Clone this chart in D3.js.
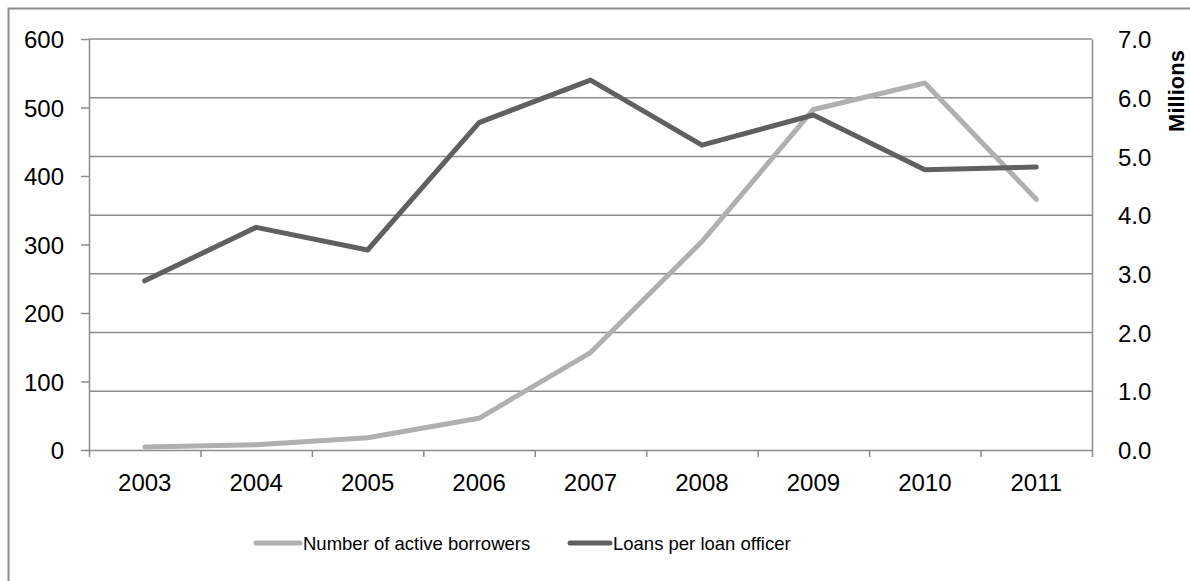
<!DOCTYPE html>
<meta charset="utf-8">
<style>
body { margin: 0; background: #fff; }
svg { font-family: "Liberation Sans", Arial, sans-serif; }
.axis text { fill: #000; font-size: 24px; }
.axis path, .axis line { stroke: #8c8c8c; stroke-width: 1.5px; }
.grid line { stroke: #8c8c8c; stroke-width: 1.5px; }
.legend text { font-size: 18.5px; fill: #000; }
</style>
<svg width="1190" height="581"></svg>
<script src="https://d3js.org/d3.v7.min.js"></script>
<script>

// data
var years = ["2003", "2004", "2005", "2006", "2007", "2008", "2009", "2010", "2011"];
var borrowers = [0.05, 0.09, 0.21, 0.54, 1.66, 3.55, 5.8, 6.25, 4.27]; // millions, right axis
var loansPerOfficer = [247, 325, 292, 478, 540, 445, 489, 409, 413];  // left axis
var leftTicks = [0, 100, 200, 300, 400, 500, 600];
var rightTicks = [0, 1, 2, 3, 4, 5, 6, 7];
var seriesNames = ["Number of active borrowers", "Loans per loan officer"];
var seriesColors = ["#b0b0b0", "#606060"];

var svg = d3.select("svg");
var plotLeft = 89, plotRight = 1092, plotTop = 39, plotBottom = 450;

// outer chart border
svg.append("rect")
    .attr("x", 8.5).attr("y", 8.5)
    .attr("width", 1200).attr("height", 600)
    .attr("fill", "none")
    .attr("stroke", "#8c8c8c")
    .attr("stroke-width", 2);

var x = d3.scaleBand().domain(years).range([plotLeft, plotRight]);
var xEdge = d3.scaleLinear().domain([0, years.length]).range([plotLeft, plotRight]);
var yL = d3.scaleLinear().domain([0, 600]).range([plotBottom, plotTop]);
var yR = d3.scaleLinear().domain([0, 7]).range([plotBottom, plotTop]);

// gridlines follow the right axis
svg.append("g").attr("class", "grid")
  .selectAll("line")
  .data(rightTicks.slice(1))
  .enter().append("line")
    .attr("x1", plotLeft).attr("x2", plotRight)
    .attr("y1", function(d) { return yR(d); })
    .attr("y2", function(d) { return yR(d); });

svg.append("g").attr("class", "axis")
    .attr("transform", "translate(" + plotLeft + ",0)")
    .call(d3.axisLeft(yL).tickValues(leftTicks).tickSize(8).tickSizeOuter(0).tickPadding(17).tickFormat(d3.format("d")))
    .selectAll("text").attr("dy", "0.36em");

svg.append("g").attr("class", "axis")
    .attr("transform", "translate(" + plotRight + ",0)")
    .call(d3.axisRight(yR).tickValues(rightTicks).tickSize(0).tickPadding(26).tickFormat(d3.format(".1f")))
    .selectAll("text").attr("dy", "0.36em");

// bottom axis: tick marks between categories, labels centered
svg.append("g").attr("class", "axis")
    .attr("transform", "translate(0," + plotBottom + ")")
    .call(d3.axisBottom(xEdge).tickValues(d3.range(years.length + 1)).tickSize(7).tickSizeOuter(0).tickFormat(""));

var xl = svg.append("g").attr("class", "axis")
    .attr("transform", "translate(0," + plotBottom + ")")
    .call(d3.axisBottom(x).tickSize(0).tickPadding(24));
xl.select(".domain").remove();

svg.append("text")
    .attr("transform", "translate(1184,91) rotate(-90)")
    .attr("text-anchor", "middle")
    .style("font-size", "22px")
    .style("font-weight", "bold")
    .text("Millions");

var lineR = d3.line()
    .x(function(d, i) { return x(years[i]) + x.bandwidth() / 2; })
    .y(function(d) { return yR(d); });
var lineL = d3.line()
    .x(function(d, i) { return x(years[i]) + x.bandwidth() / 2; })
    .y(function(d) { return yL(d); });

svg.append("path")
    .datum(borrowers)
    .attr("d", lineR)
    .attr("fill", "none")
    .attr("stroke", seriesColors[0])
    .attr("stroke-width", 5)
    .attr("stroke-linecap", "round")
    .attr("stroke-linejoin", "round");

svg.append("path")
    .datum(loansPerOfficer)
    .attr("d", lineL)
    .attr("fill", "none")
    .attr("stroke", seriesColors[1])
    .attr("stroke-width", 5)
    .attr("stroke-linecap", "round")
    .attr("stroke-linejoin", "round");

// legend
var legendX = [254, 568];
var leg = svg.append("g").attr("class", "legend")
  .selectAll("g")
  .data(seriesNames)
  .enter().append("g")
    .attr("transform", function(d, i) { return "translate(" + legendX[i] + ",543)"; });

leg.append("line")
    .attr("x1", 2).attr("x2", function(d, i) { return i ? 42 : 46; })
    .attr("stroke", function(d, i) { return seriesColors[i]; })
    .attr("stroke-width", 5)
    .attr("stroke-linecap", "round");

leg.append("text")
    .attr("x", function(d, i) { return i ? 45 : 49; })
    .attr("dy", "0.36em")
    .text(function(d) { return d; });

</script>
